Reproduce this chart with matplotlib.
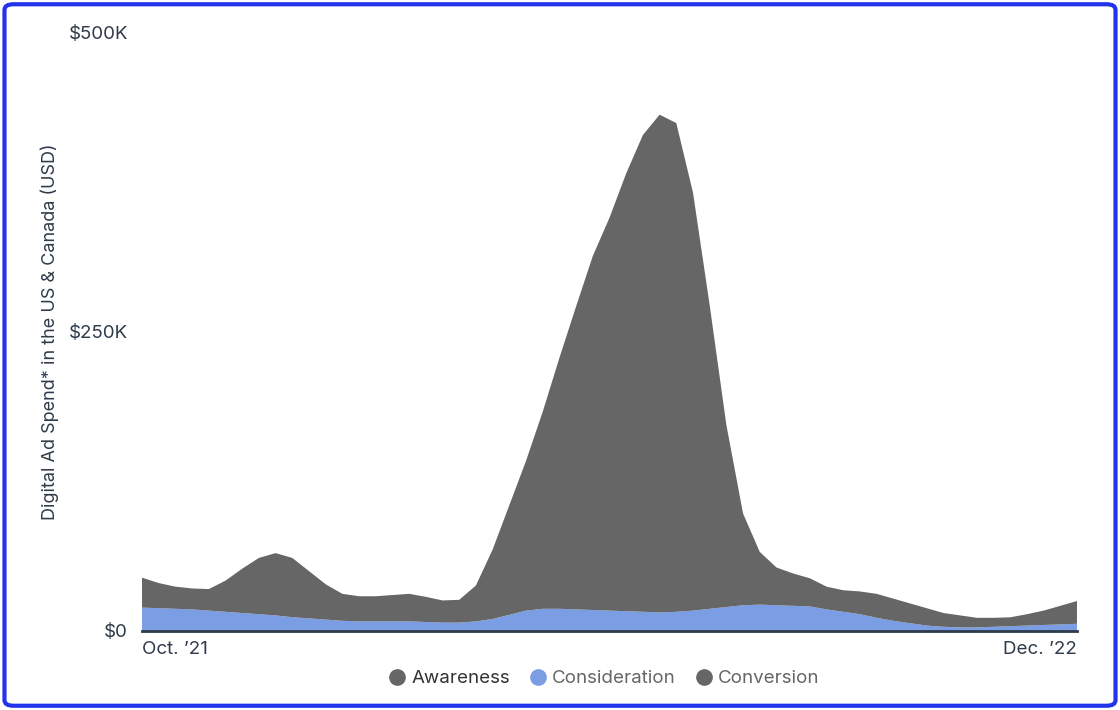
import numpy as np
import matplotlib
matplotlib.use("Agg")
import matplotlib.pyplot as plt
from matplotlib.patches import FancyBboxPatch
from matplotlib.lines import Line2D

plt.rcParams['font.family'] = ['Inter', 'DejaVu Sans']

# Quarter-month points from Oct '21 to Dec '22 (values in $K)
months = np.linspace(0, 14, 57)
tick_labels = ["Oct. \u201921", "Dec. \u201922"]
series_names = ["Awareness", "Consideration", "Conversion"]

awareness = [0.0] * 57
consideration = [19.5, 19, 18.5, 18, 17, 16, 15, 14, 13, 11.5, 10.5, 9.5, 8.5, 8, 8, 8,
                 8, 7.5, 7, 7, 8, 10, 13.5, 17, 18.5, 18.5, 18, 17.5, 17, 16.5, 16, 15.5,
                 16, 17, 18.5, 20, 21.5, 22, 21.5, 21, 20.5, 18, 16, 14, 11, 8.5, 6.5, 4.5,
                 3.5, 3, 3, 3.5, 4, 4.5, 5, 5.5, 6]
conversion = [25, 21, 18.5, 17.5, 18, 26, 37, 47, 52, 49.5, 39.5, 29.5, 22.5, 21, 21, 22,
              23, 21, 18.5, 19, 30, 58, 91.5, 125, 164.5, 209.5, 253, 295.5, 328, 365.5,
              398, 415.5, 408, 349, 253.5, 152, 76.5, 44, 31.5, 27, 23.5, 19, 18, 19, 20,
              18.5, 16.5, 14.5, 11.5, 10, 8, 7.5, 7.4, 9.5, 12, 15.5, 19]

colors = ["#666666", "#7a9de3", "#666666"]
text_dark = "#2e3b4a"
fs = 13.5

fig = plt.figure(figsize=(11.2, 7.1), dpi=100)
ax = fig.add_axes([0.1268, 0.1113, 0.9616 - 0.1268, 0.9549 - 0.1113])

ax.stackplot(months, np.array(awareness), np.array(consideration), np.array(conversion),
             colors=colors, linewidth=0)
ax.set_xlim(months[0], months[-1])
ax.set_ylim(0, 500)

for s in ['top', 'right', 'left']:
    ax.spines[s].set_visible(False)
ax.spines['bottom'].set_color(text_dark)
ax.spines['bottom'].set_linewidth(2)
ax.spines['bottom'].set_zorder(5)

ax.set_yticks([0, 250, 500])
ax.set_yticklabels(["$0", "$250K", "$500K"], fontsize=fs, color=text_dark)
ax.tick_params(axis='y', length=0, pad=10)

ax.set_xticks([months[0], months[-1]])
xl = ax.set_xticklabels(tick_labels, fontsize=fs, color=text_dark)
xl[0].set_ha('left')
xl[1].set_ha('right')
ax.tick_params(axis='x', length=0, pad=7)

ax.set_ylabel("Digital Ad Spend* in the US & Canada (USD)", fontsize=13,
              color=text_dark, labelpad=7)

handles = [Line2D([], [], marker='o', linestyle='none', markersize=11,
                  markerfacecolor=c, markeredgecolor=c) for c in colors]
leg = fig.legend(handles, series_names, loc='center', bbox_to_anchor=(0.539, 0.044),
                 ncol=3, frameon=False, fontsize=fs, handletextpad=0.25,
                 handlelength=1.0, columnspacing=1.0)
for t, c in zip(leg.get_texts(), ["#333333", "#666666", "#666666"]):
    t.set_color(c)

border = FancyBboxPatch((0.004, 0.006), 0.992, 0.988,
                        boxstyle="round,pad=0,rounding_size=0.008",
                        transform=fig.transFigure, fill=False,
                        edgecolor="#2233ee", linewidth=3, zorder=10)
fig.patches.append(border)

fig.savefig("out.png", dpi=100)
